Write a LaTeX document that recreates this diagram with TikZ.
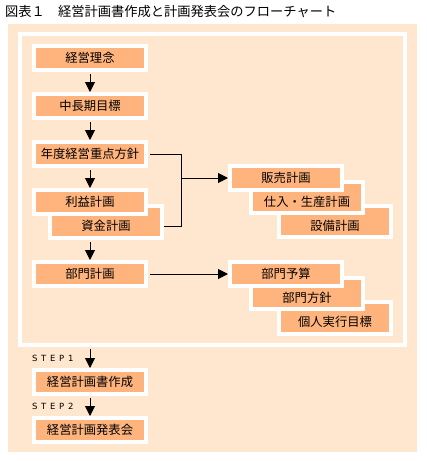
\documentclass[tikz,border=0pt]{standalone}
\usepackage{fontspec}
\newfontfamily\jp{Noto Sans CJK JP}
\newfontfamily\stepfont{DejaVu Sans}
\usetikzlibrary{arrows.meta}
\definecolor{bgpeach}{RGB}{255,230,206}
\definecolor{boxorange}{RGB}{255,180,125}
\newcommand{\lowtext}[1]{\raisebox{-4pt}[\height][\depth]{#1}}
\newcommand{\stepword}[1]{\makebox[9pt][l]{S}\makebox[9pt][l]{T}\makebox[9pt][l]{E}\makebox[9pt][l]{P}#1}
\begin{document}
\begin{tikzpicture}[x=1pt,y=-1pt,
  obox/.style={draw=white, line width=4pt, fill=boxorange, minimum width=112pt,
    minimum height=24pt, inner sep=0pt, font=\jp\fontsize{12.3}{14}\selectfont, text=black},
  conn/.style={line width=1pt, draw=black, shorten <=2pt},
  arr/.style={conn, -{Triangle[length=10pt,width=10pt]}},
  steplbl/.style={anchor=west, inner sep=0pt, font=\stepfont\fontsize{8.5}{9}\selectfont},
]
\useasboundingbox[fill=white] (0,0) rectangle (427,461);
% title
\node[anchor=west, inner sep=0pt, font=\jp\fontsize{13.25}{15}\selectfont] (title) at (5,12)
  {図表１　経営計画書作成と計画発表会のフローチャート};
% background
\fill[bgpeach] (8,24) rectangle (417,452);
\node[draw=white, line width=4pt, minimum width=385pt, minimum height=311pt, inner sep=0pt]
  (frame) at (212.5,189.5) {};

% left column
\node[obox] (b1) at (90,58) {経営理念};
\node[obox] (b2) at (90,106) {中長期目標};
\node[obox] (b3) at (90,154) {年度経営重点方針};
\node[obox, minimum height=32pt] (b5) at (106,222) {\lowtext{資金計画}};
\node[obox] (b4) at (90,202) {利益計画};
\node[obox] (b6) at (90,274) {部門計画};
\node[obox] (b7) at (90,382) {経営計画書作成};
\node[obox] (b8) at (90,430) {経営計画発表会};

% right group 1
\node[obox, minimum height=31pt] (r3) at (335,221.5) {\lowtext{設備計画}};
\node[obox, minimum height=31pt] (r2) at (307,197.5) {\lowtext{仕入・生産計画}};
\node[obox] (r1) at (286,178) {販売計画};

% right group 2
\node[obox, minimum height=32pt] (r6) at (335,318) {\lowtext{個人実行目標}};
\node[obox, minimum height=31pt] (r5) at (307,293.5) {\lowtext{部門方針}};
\node[obox] (r4) at (286,274) {部門予算};

% STEP labels
\node[steplbl] (s1) at (32,358) {\stepword{1}};
\node[steplbl] (s2) at (32,406) {\stepword{2}};

% connectors
\draw[arr] (b1.south) -- (b2.north);
\draw[arr] (b2.south) -- (b3.north);
\draw[arr] (b3.south) -- (b4.north);
\draw[arr] (b1 |- b5.south) -- (b6.north);
\coordinate (j1) at (181,154);
\coordinate (j2) at (181,226);
\coordinate (j3) at (181,178);
\draw[conn] (b3.east) -- (j1) -- (j2) -- (b5.east |- j2);
\draw[arr, shorten <=0pt] (j3) -- (r1.west);
\draw[arr] (b6.east) -- (r4.west);
\draw[arr] (b1 |- frame.south) -- (b7.north);
\draw[arr] (b7.south) -- (b8.north);
\end{tikzpicture}
\end{document}
